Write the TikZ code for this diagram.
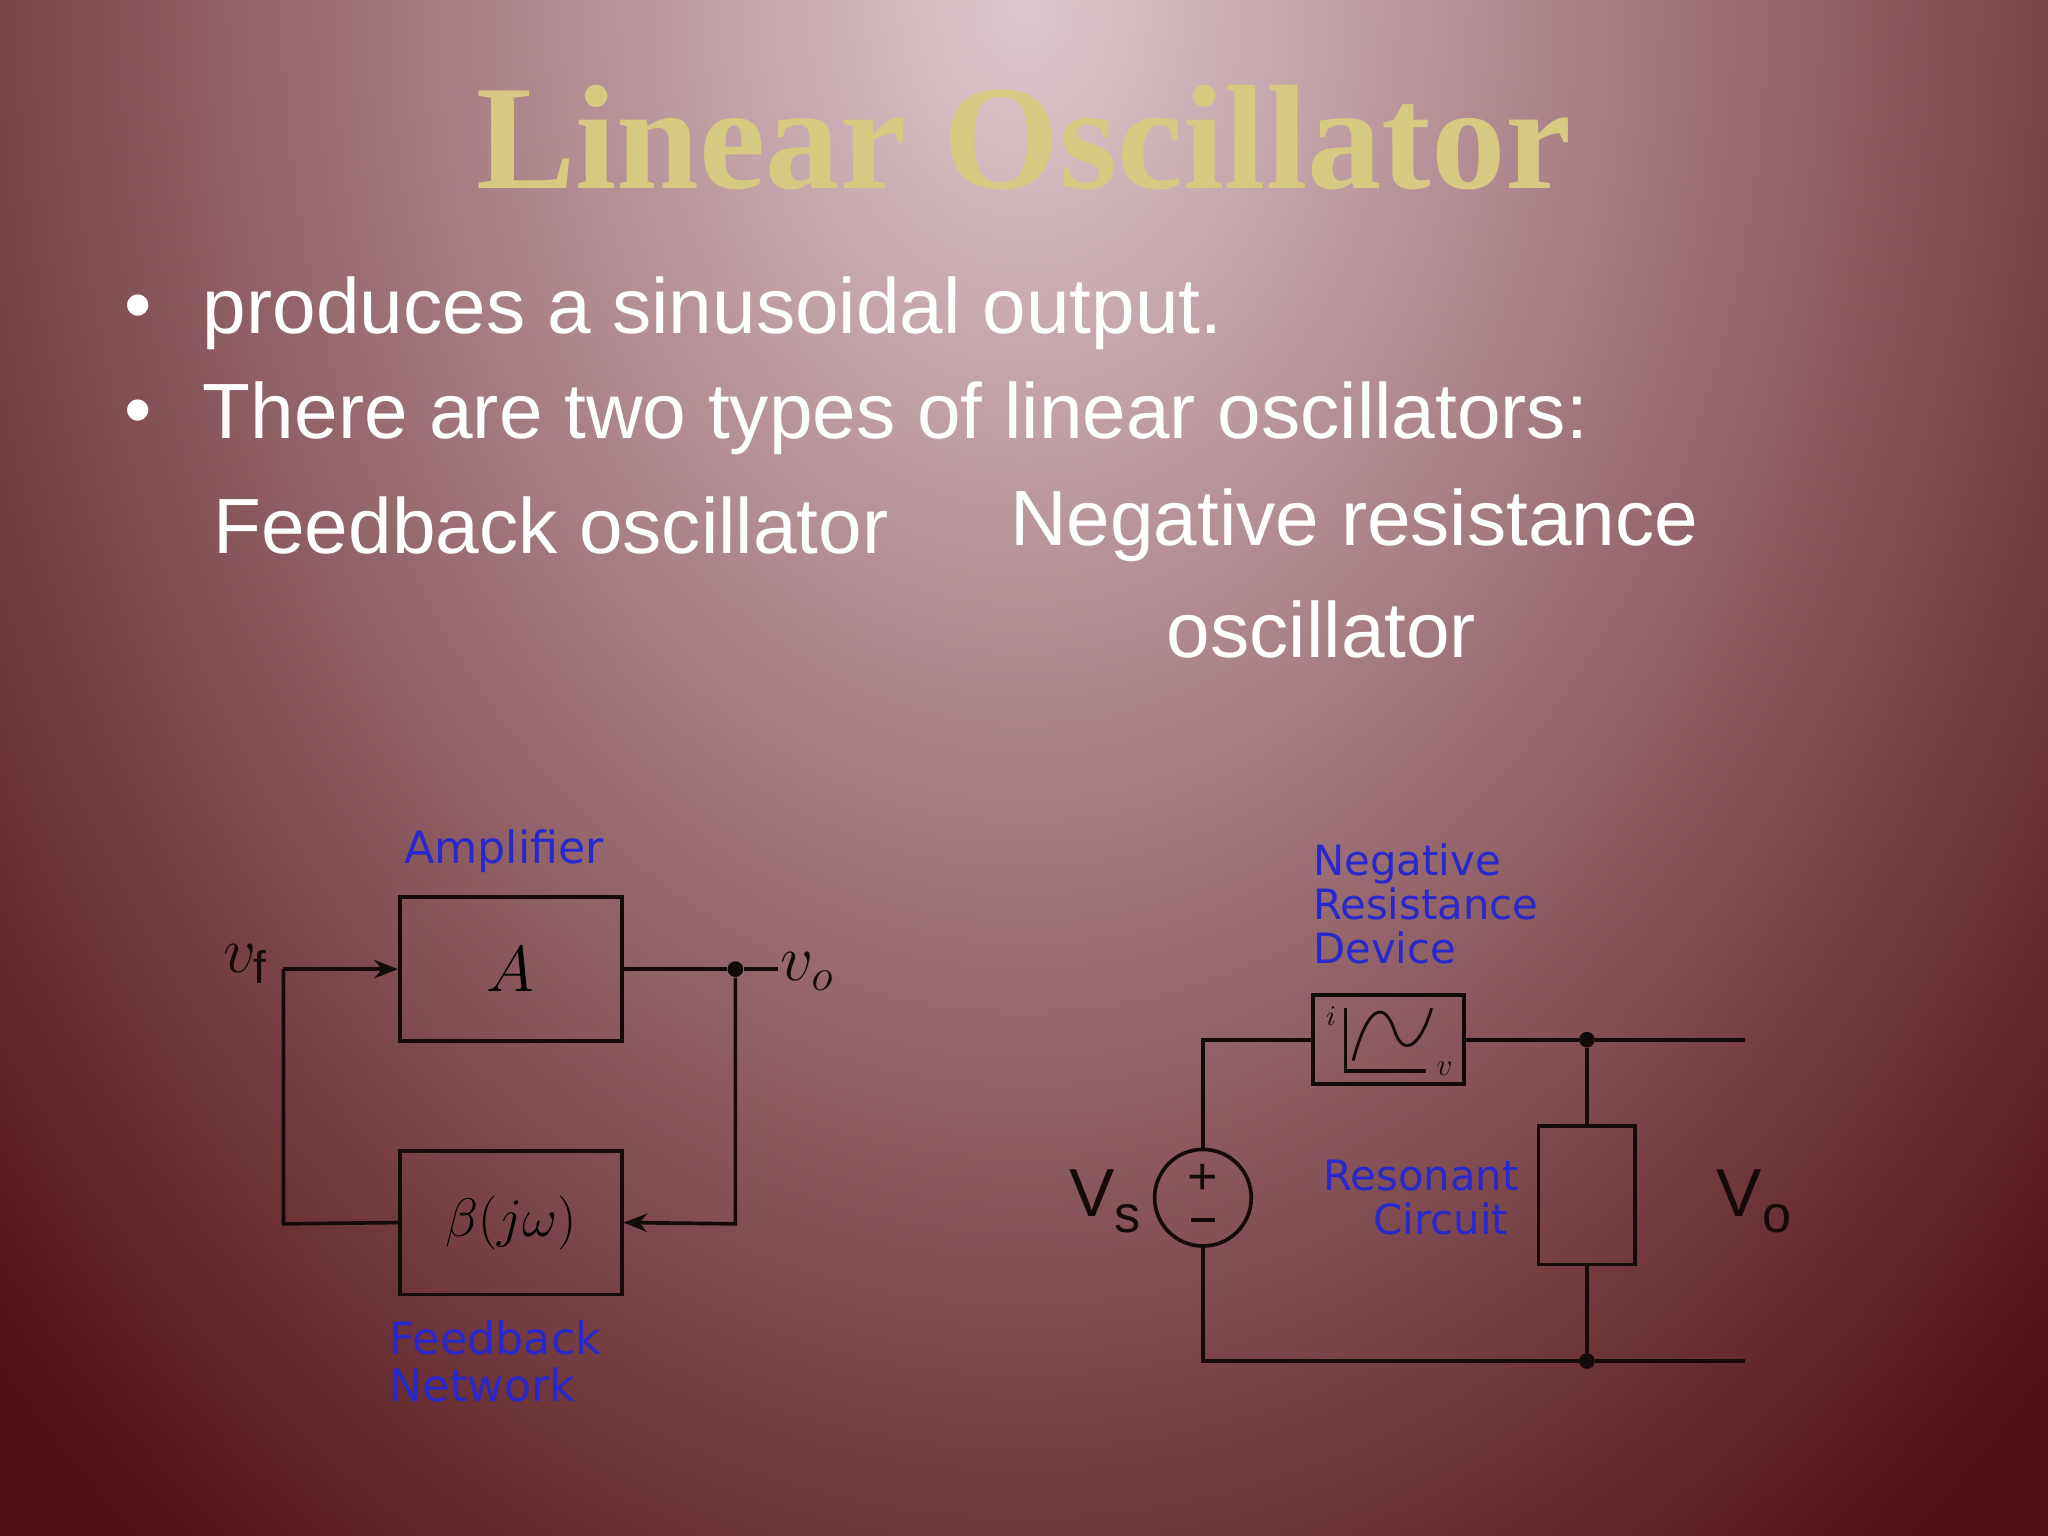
\documentclass[tikz,border=0pt]{standalone}
\usepackage{fontspec}
\setmainfont{Liberation Sans}
\newfontfamily\titlefont{Liberation Serif}
\newfontfamily\dvs{DejaVu Sans}
\usetikzlibrary{arrows.meta}
\definecolor{bgdark}{RGB}{80,15,20}
\definecolor{bglight}{RGB}{224,200,206}
\definecolor{titlec}{RGB}{215,200,130}
\definecolor{lblue}{RGB}{40,40,205}
\definecolor{wire}{RGB}{20,10,10}
\tikzset{
 lab/.style={text=lblue,font=\dvs\fontsize{17}{19}\selectfont,inner sep=0pt},
 blk/.style={draw=wire,line width=1.4pt,minimum width=85pt,minimum height=55pt,inner sep=0pt},
 w/.style={draw=wire,line width=1.4pt},
 dot/.style={circle,fill=wire,inner sep=0pt,minimum size=6pt},
 bul/.style={text=white,anchor=west,inner sep=0pt,font=\fontsize{30}{33}\selectfont},
}
\begin{document}
\begin{tikzpicture}[x=0.5pt,y=-0.5pt]
\useasboundingbox (0,0) rectangle (1568,1176);
\begin{scope}
\clip (0,0) rectangle (1568,1176);
\fill[bgdark] (0,0) rectangle (1568,1176);
\shade[inner color=bglight,outer color=bgdark] (784,0) ellipse [x radius=1100,y radius=1500];
\end{scope}
\node[text=titlec,font=\titlefont\bfseries\fontsize{57}{60}\selectfont,inner sep=0pt] (title) at (784,105) {Linear Oscillator};
\node[bul] (b1d) at (95,240) {•};
\node[bul] (b1) at (155,240) {produces a sinusoidal output.};
\node[bul] (b2d) at (95,320) {•};
\node[bul] (b2) at (155,320) {There are two types of linear oscillators:};
\node[bul] (t1) at (163,402) {Feedback oscillator};
\node[bul] (t2) at (773,402) {Negative resistance};
\node[bul] (t3) at (893,482) {oscillator};
% left diagram
\node[blk] (A) at (391,742) {\fontsize{24}{26}\selectfont$A$};
\node[blk] (B) at (391,936) {\fontsize{22}{24}\selectfont$\beta(j\omega)$};
\node[dot] (o) at (563,742) {};
\coordinate (vfc) at (217,742);
\coordinate (vfd) at (217,937);
\coordinate (od) at (563,937);
\coordinate (oe) at (596,742);
\draw[w,-{Stealth[length=9pt,width=7pt]}] (vfc) -- (A.west);
\draw[w] (vfc) -- (vfd) -- (B.west);
\draw[w] (A.east) -- (o) -- (oe);
\draw[w,-{Stealth[length=9pt,width=7pt]}] (o) -- (od) -- (B.east);
\node[inner sep=0pt,text=wire,font=\fontsize{25}{27}\selectfont] (vf) at (188,738) {$v_{\mathrm f}$};
\node[inner sep=0pt,text=wire,font=\fontsize{25}{27}\selectfont] (vo) at (618,744) {$v_o$};
\node[lab] (amp) at (386,652) {Amplifier};
\node[lab,anchor=west,align=left,font=\dvs\fontsize{17}{19}\selectfont] (fbn) at (298,1042) {Feedback\\[-1pt]Network};
% right diagram
\node[draw=wire,line width=1.4pt,minimum width=58pt,minimum height=34pt,inner sep=0pt] (nrd) at (1063,796) {};
\draw[wire,line width=1.2pt] (1030,772) -- (1030,820) -- (1092,820);
\draw[wire,line width=1.1pt] (1036,812) .. controls (1047,770) and (1060,765) .. (1068,790) .. controls (1075,810) and (1088,800) .. (1096,772);
\node[inner sep=0pt,font=\fontsize{11}{12}\selectfont,text=wire] (ilab) at (1019,778) {$i$};
\node[inner sep=0pt,font=\fontsize{12}{12}\selectfont,text=wire] (vlab) at (1106,818) {$v$};
\node[circle,draw=wire,line width=1.4pt,minimum size=37pt,inner sep=0pt] (src) at (921,917) {};
\node[inner sep=0pt,text=wire,font=\fontsize{20}{20}\selectfont] (plus) at (921,903) {+};
\draw[wire,line width=1.3pt] (912,934) -- (930,934);
\node[draw=wire,line width=1.4pt,minimum width=37pt,minimum height=53pt,inner sep=0pt] (res) at (1215,915) {};
\coordinate (tl) at (921,796);
\coordinate (bl) at (921,1042);
\node[dot] (dt) at (1215,796) {};
\node[dot] (db) at (1215,1042) {};
\coordinate (tr) at (1336,796);
\coordinate (br) at (1336,1042);
\draw[w] (src.north) -- (tl) -- (nrd.west) (nrd.east) -- (dt) -- (tr);
\draw[w] (src.south) -- (bl) -- (db) -- (br);
\draw[w] (dt) -- (res.north) (res.south) -- (db);
\node[inner sep=0pt,text=wire,font=\fontsize{26}{28}\selectfont] (vs) at (846,920) {V\raisebox{-6pt}{\fontsize{20}{20}\selectfont s}};
\node[inner sep=0pt,text=wire,font=\fontsize{26}{28}\selectfont] (vout) at (1343,920) {V\raisebox{-6pt}{\fontsize{20}{20}\selectfont o}};
\node[lab,anchor=west,align=left,font=\dvs\fontsize{16}{18}\selectfont] (nlab) at (1005,692) {Negative\\[-1pt]Resistance\\[-1pt]Device};
\node[lab,anchor=east,align=right,font=\dvs\fontsize{16}{18}\selectfont] (rlab) at (1163,917) {Resonant\\[-1pt]Circuit\hspace*{4pt}};
\end{tikzpicture}
\end{document}
